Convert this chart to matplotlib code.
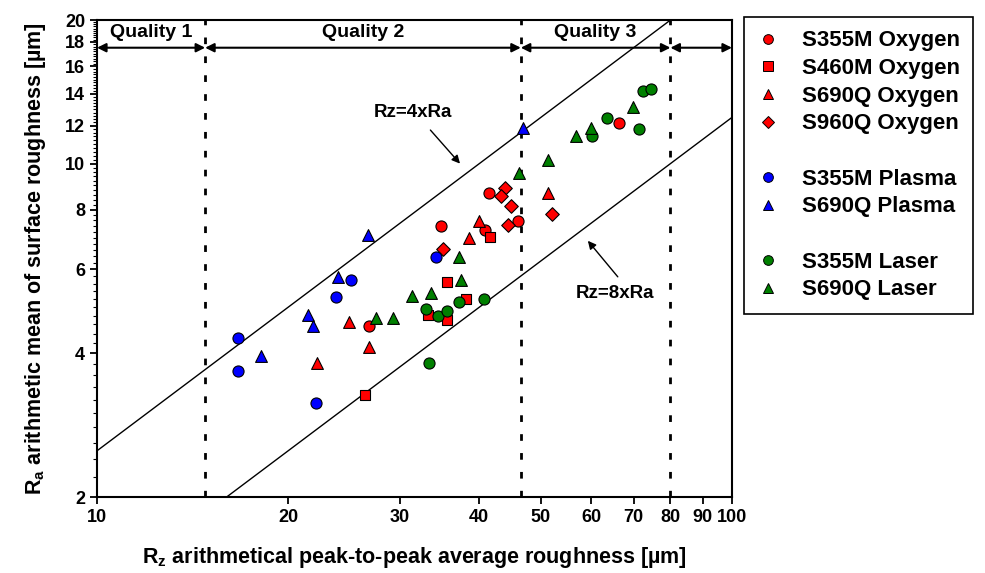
import matplotlib
matplotlib.use('Agg')
import numpy as np
from matplotlib import pyplot as plt
from matplotlib.lines import Line2D
from matplotlib.ticker import FixedLocator, NullLocator, NullFormatter

plt.rcParams['font.family'] = ['Liberation Sans', 'DejaVu Sans']
plt.rcParams['font.weight'] = 'bold'
plt.rcParams['axes.labelweight'] = 'bold'
plt.rcParams['mathtext.fontset'] = 'custom'
plt.rcParams['mathtext.rm'] = 'Liberation Sans:bold'
plt.rcParams['mathtext.it'] = 'Liberation Sans:bold'

# Rz / Ra pairs [um] per steel grade and cutting process
s355m_oxy_rz = [26.8, 34.8, 41.4, 46.0, 40.8, 66.4]
s355m_oxy_ra = [4.57, 7.40, 8.67, 7.58, 7.26, 12.17]

s460m_oxy_rz = [26.4, 41.6, 35.6, 38.1, 33.2, 35.6]
s460m_oxy_ra = [3.27, 7.02, 5.65, 5.20, 4.81, 4.70]

s690q_oxy_rz = [24.9, 26.8, 22.2, 40.0, 38.5, 51.3]
s690q_oxy_ra = [4.65, 4.13, 3.82, 7.58, 6.98, 8.67]

s960q_oxy_rz = [43.9, 43.3, 44.9, 44.4, 52.1, 35.1]
s960q_oxy_ra = [8.89, 8.55, 8.15, 7.43, 7.84, 6.62]

s355m_pla_rz = [25.1, 23.8, 16.7, 16.7, 22.1, 34.2]
s355m_pla_ra = [5.70, 5.25, 4.31, 3.67, 3.15, 6.37]

s690q_pla_rz = [26.7, 24.0, 21.5, 21.9, 18.1, 46.9]
s690q_pla_ra = [7.09, 5.78, 4.81, 4.57, 3.95, 11.87]

s355m_las_rz = [33.0, 34.4, 35.6, 37.2, 40.7, 33.3, 72.4, 74.6, 63.6, 60.2, 71.4]
s355m_las_ra = [4.96, 4.79, 4.91, 5.13, 5.20, 3.82, 14.20, 14.33, 12.46, 11.42, 11.82]

s690q_las_rz = [27.5, 29.2, 31.3, 33.6, 37.4, 37.2, 46.2, 51.3, 56.8, 60.0, 69.8]
s690q_las_ra = [4.75, 4.75, 5.28, 5.35, 5.70, 6.37, 9.55, 10.18, 11.42, 11.87, 13.14]

# quality class borders on the Rz axis
quality_bounds = [10, 14.8, 46.5, 80, 100]
quality_names = ['Quality 1', 'Quality 2', 'Quality 3', '']

# Rz = k x Ra guide lines
guide_rz = np.array([10, 100])
guide_factors = [4, 8]

xticks = [10, 20, 30, 40, 50, 60, 70, 80, 90, 100]
yticks = [2, 4, 6, 8, 10, 12, 14, 16, 18, 20]

series = [
    (s355m_oxy_rz, s355m_oxy_ra, 'o', 'red', 64, 'S355M Oxygen'),
    (s460m_oxy_rz, s460m_oxy_ra, 's', 'red', 52, 'S460M Oxygen'),
    (s690q_oxy_rz, s690q_oxy_ra, '^', 'red', 72, 'S690Q Oxygen'),
    (s960q_oxy_rz, s960q_oxy_ra, 'D', 'red', 48, 'S960Q Oxygen'),
    None,
    (s355m_pla_rz, s355m_pla_ra, 'o', 'blue', 64, 'S355M Plasma'),
    (s690q_pla_rz, s690q_pla_ra, '^', 'blue', 72, 'S690Q Plasma'),
    None,
    (s355m_las_rz, s355m_las_ra, 'o', 'green', 64, 'S355M Laser'),
    (s690q_las_rz, s690q_las_ra, '^', 'green', 72, 'S690Q Laser'),
]

fig = plt.figure(figsize=(9.85, 5.73), dpi=100)
ax = fig.add_axes([0.0985, 0.1326, 0.6446, 0.8324])
ax.set_xscale('log')
ax.set_yscale('log')

handles = []
for s in series:
    if s is None:
        handles.append(Line2D([], [], linestyle='none', label=' '))
        continue
    rz, ra, m, c, size, name = s
    ax.scatter(rz, ra, marker=m, s=size, c=c, edgecolors='black',
               linewidths=0.8, zorder=3)
    handles.append(Line2D([], [], marker=m, linestyle='none', markerfacecolor=c,
                          markeredgecolor='black', markeredgewidth=0.7,
                          markersize=7 if m != 'D' else 6, label=name))

for k in guide_factors:
    ax.plot(guide_rz, guide_rz / k, color='black', lw=1, zorder=2)

# quality classes: dashed borders and double arrows on top
band_y = 17.5
for b in quality_bounds[1:-1]:
    ax.axvline(b, color='black', lw=2, ls=(0, (2.4, 4.4)), zorder=2)
for x0, x1, name in zip(quality_bounds[:-1], quality_bounds[1:], quality_names):
    ax.annotate('', xy=(x1, band_y), xytext=(x0, band_y),
                arrowprops=dict(arrowstyle='<|-|>', color='black', lw=1.5,
                                shrinkA=0, shrinkB=0, mutation_scale=13))
    if name:
        ax.text(np.sqrt(x0 * x1), 18.8, name, ha='center', va='center',
                fontsize=14, fontweight='bold')

ax.text(31.4, 12.8, 'Rz=4xRa', ha='center', va='center', fontsize=13.5)
ax.annotate('', xy=(37.3, 10.0), xytext=(33.5, 11.76),
            arrowprops=dict(arrowstyle='-|>', color='black', lw=1,
                            shrinkA=0, shrinkB=0, mutation_scale=12))
ax.text(65.5, 5.35, 'Rz=8xRa', ha='center', va='center', fontsize=13.5)
ax.annotate('', xy=(59.3, 6.89), xytext=(66.1, 5.79),
            arrowprops=dict(arrowstyle='-|>', color='black', lw=1,
                            shrinkA=0, shrinkB=0, mutation_scale=12))

ax.set_xlim(10, 100)
ax.set_ylim(2, 20)
ax.xaxis.set_major_locator(FixedLocator(xticks))
ax.xaxis.set_minor_locator(NullLocator())
ax.set_xticklabels([str(t) for t in xticks])
ax.yaxis.set_major_locator(FixedLocator(yticks))
ax.yaxis.set_minor_locator(FixedLocator(np.arange(2, 20.01, 0.2)))
ax.yaxis.set_minor_formatter(NullFormatter())
ax.set_yticklabels([str(t) for t in yticks])
ax.tick_params(which='major', direction='out', length=5, width=1.3, labelsize=13)
ax.tick_params(which='minor', direction='out', length=3, width=0.8)
for sp in ax.spines.values():
    sp.set_linewidth(1.5)

ax.set_xlabel(r'R$_\mathrm{z}$ arithmetical peak-to-peak average roughness [µm]',
              fontsize=15.5, fontweight='bold', labelpad=14)
ax.set_ylabel(r'R$_\mathrm{a}$ arithmetic mean of surface roughness [µm]',
              fontsize=15.5, fontweight='bold', labelpad=12)

leg = fig.legend(handles=handles, loc='upper left',
                 bbox_to_anchor=(744 / 985, 1 - 17 / 573), fontsize=16,
                 frameon=True, fancybox=False, edgecolor='black', framealpha=1,
                 labelspacing=0.3, handlelength=1.0, handletextpad=1.0,
                 borderpad=0.6, borderaxespad=0)
leg.get_frame().set_linewidth(1.2)

plt.savefig('out.png', dpi=100)
